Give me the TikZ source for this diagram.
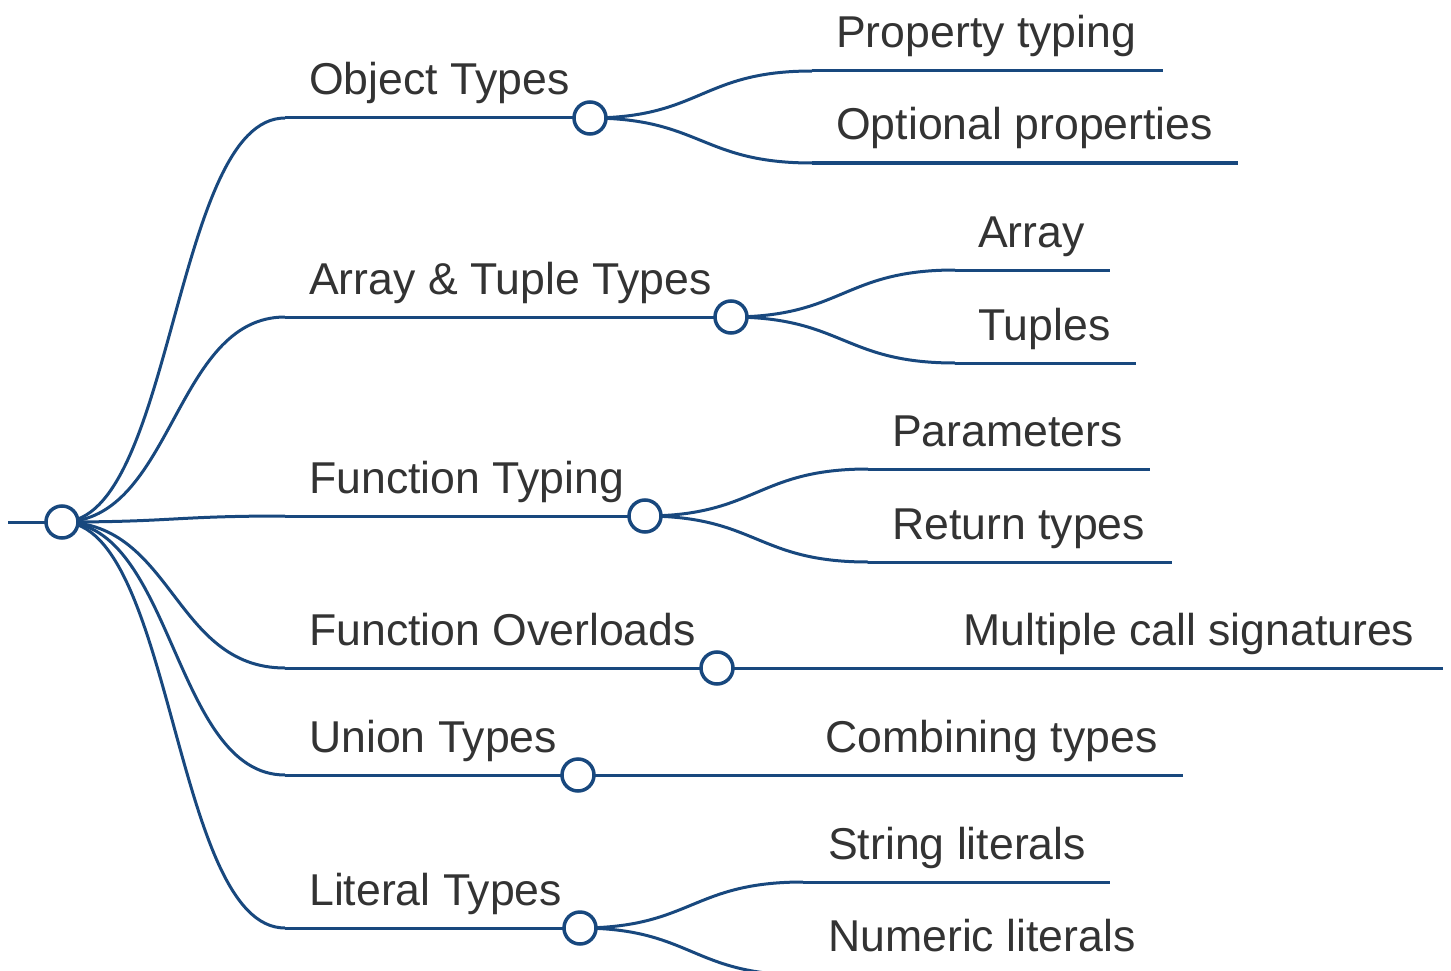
\documentclass[tikz,border=0pt]{standalone}
\usepackage{fontspec}
\setmainfont{Liberation Sans}
\usetikzlibrary{calc}
\definecolor{edge}{RGB}{24,72,126}
\definecolor{ink}{RGB}{51,51,51}
\tikzset{
  link/.style={to path={let \p1=(\tikztostart), \p2=(\tikztotarget) in
      .. controls ({(\x1+\x2)/2},\y1) and ({(\x1+\x2)/2},\y2) .. (\tikztotarget)}},
  wire/.style={draw=edge, line width=3pt},
  dot/.style={circle, draw=edge, fill=white, line width=3.5pt, minimum size=32pt, inner sep=0pt},
  lbl/.style={anchor=base west, inner sep=0pt, text=ink, font=\fontsize{44.6}{52}\selectfont}
}
\begin{document}
\begin{tikzpicture}[x=1pt,y=-1pt]
\useasboundingbox (0,0) rectangle (1451,971);
\clip (0,0) rectangle (1451,971);

% root and first-level anchor points
\coordinate (r0) at (8,522);
\coordinate (r) at (62,522);
\coordinate (oT) at (285,118);  \coordinate (oC) at (590,118);
\coordinate (aT) at (285,317);  \coordinate (aC) at (731,317);
\coordinate (fT) at (285,516);  \coordinate (fC) at (645,516);
\coordinate (vT) at (285,668);  \coordinate (vC) at (717,668);
\coordinate (uT) at (285,775);  \coordinate (uC) at (578,775);
\coordinate (lT) at (285,928);  \coordinate (lC) at (580,928);

% leaf underlines
\coordinate (o1a) at (812,71);   \coordinate (o1b) at (1163,71);
\coordinate (o2a) at (812,163);  \coordinate (o2b) at (1238,163);
\coordinate (a1a) at (955,270);  \coordinate (a1b) at (1110,270);
\coordinate (a2a) at (955,363);  \coordinate (a2b) at (1136,363);
\coordinate (f1a) at (868,469);  \coordinate (f1b) at (1150,469);
\coordinate (f2a) at (868,562);  \coordinate (f2b) at (1172,562);
\coordinate (v1a) at (938,668);  \coordinate (v1b) at (1443,668);
\coordinate (u1a) at (800,775);  \coordinate (u1b) at (1183,775);
\coordinate (l1a) at (803,882);  \coordinate (l1b) at (1110,882);
\coordinate (l2a) at (803,975);  \coordinate (l2b) at (1161,975);

% connectors
\draw[wire] (r0) -- (r);
\foreach \b in {o,a,f,v,u,l} {
  \draw[wire] (r) to[link] (\b T);
  \draw[wire] (\b T) -- (\b C);
}
\foreach \c/\p in {o1/o,o2/o,a1/a,a2/a,f1/f,f2/f,v1/v,u1/u,l1/l,l2/l} {
  \draw[wire] (\p C) to[link] (\c a);
  \draw[wire] (\c a) -- (\c b);
}

% circles
\node[dot] (rootdot) at (r) {};
\foreach \b in {o,a,f,v,u,l} \node[dot] (\b dot) at (\b C) {};

% labels
\node[lbl] (tO) at (309,95) {Object Types};
\node[lbl] (tA) at (309,294) {Array \& Tuple Types};
\node[lbl] (tF) at (309,493) {Function Typing};
\node[lbl] (tV) at (309,645) {Function Overloads};
\node[lbl] (tU) at (309,752) {Union Types};
\node[lbl] (tL) at (309,905) {Literal Types};

\node[lbl] (tO1) at (836,48) {Property typing};
\node[lbl] (tO2) at (836,140) {Optional properties};
\node[lbl] (tA1) at (978,247) {Array};
\node[lbl] (tA2) at (978,340) {Tuples};
\node[lbl] (tF1) at (892,446) {Parameters};
\node[lbl] (tF2) at (892,539) {Return types};
\node[lbl] (tV1) at (963,645) {Multiple call signatures};
\node[lbl] (tU1) at (825,752) {Combining types};
\node[lbl] (tL1) at (828,859) {String literals};
\node[lbl] (tL2) at (828,951) {Numeric literals};
\end{tikzpicture}
\end{document}
